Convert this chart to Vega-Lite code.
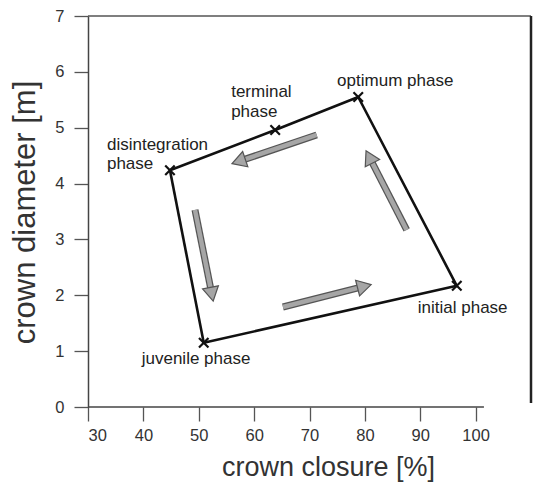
{
  "$schema": "https://vega.github.io/schema/vega-lite/v6.json",
  "width": 443,
  "height": 391,
  "autosize": {"type": "none"},
  "padding": {"left": 88, "top": 16, "right": 5, "bottom": 76},
  "background": "white",
  "config": {
    "view": {"stroke": null},
    "font": "Liberation Sans",
    "axis": {"grid": false, "labelFont": "Liberation Sans", "titleFont": "Liberation Sans", "titleFontWeight": "normal"}
  },
  "datasets": {
    "phases": [
      {"phase": "initial", "label": "initial phase", "crown_closure": 96.6, "crown_diameter": 2.17, "next": "optimum"},
      {"phase": "optimum", "label": "optimum phase", "crown_closure": 78.8, "crown_diameter": 5.55, "next": "terminal"},
      {"phase": "terminal", "label": "terminal\nphase", "crown_closure": 63.8, "crown_diameter": 4.96, "next": "disintegration"},
      {"phase": "disintegration", "label": "disintegration\nphase", "crown_closure": 44.8, "crown_diameter": 4.24, "next": "juvenile"},
      {"phase": "juvenile", "label": "juvenile phase", "crown_closure": 50.9, "crown_diameter": 1.15, "next": "initial"}
    ],
    "arrows": [
      {"arrow": "top", "x": 71.3, "y": 4.87, "x2": 57.6, "y2": 4.41},
      {"arrow": "right", "x": 87.55, "y": 3.17, "x2": 80.98, "y2": 4.44},
      {"arrow": "left", "x": 49.32, "y": 3.53, "x2": 52.28, "y2": 2.06},
      {"arrow": "bottom", "x": 65.2, "y": 1.79, "x2": 79.5, "y2": 2.15}
    ]
  },
  "layer": [
    {
      "data": {"values": [{}]},
      "mark": {"type": "rule", "color": "#555", "strokeWidth": 1.3},
      "encoding": {
        "x": {"datum": 30, "type": "quantitative", "scale": {"domain": [30, 110]}},
        "x2": {"datum": 110},
        "y": {"datum": 7, "type": "quantitative", "scale": {"domain": [0, 7]}}
      }
    },
    {
      "data": {"values": [{}]},
      "mark": {"type": "rule", "color": "#222", "strokeWidth": 2.5},
      "encoding": {
        "x": {"datum": 110, "type": "quantitative"},
        "y": {"datum": 0.07, "type": "quantitative"},
        "y2": {"datum": 7}
      }
    },
    {
      "data": {"values": [{}]},
      "mark": {"type": "rule", "color": "#444", "strokeWidth": 1.5},
      "encoding": {
        "x": {"datum": 30, "type": "quantitative"},
        "x2": {"datum": 101.5},
        "y": {"datum": 0, "type": "quantitative"}
      }
    },
    {
      "data": {"name": "phases"},
      "transform": [
        {"lookup": "next", "from": {"data": {"name": "phases"}, "key": "phase", "fields": ["crown_closure", "crown_diameter"]}, "as": ["next_closure", "next_diameter"]}
      ],
      "mark": {"type": "rule", "color": "#111", "strokeWidth": 2.6, "strokeCap": "round"},
      "encoding": {
        "x": {
          "field": "crown_closure", "type": "quantitative",
          "scale": {"domain": [30, 110], "nice": false},
          "axis": {
            "values": [30, 40, 50, 60, 70, 80, 90, 100],
            "format": "d",
            "domain": false,
            "tickSize": 14, "tickColor": "#555", "tickWidth": 1.3,
            "labelFontSize": 16.5, "labelColor": "#333", "labelPadding": 6,
            "title": "crown closure [%]", "titleFontSize": 27, "titleColor": "#333",
            "titleX": 240, "titleY": 68, "titleBaseline": "alphabetic"
          }
        },
        "x2": {"field": "next_closure"},
        "y": {
          "field": "crown_diameter", "type": "quantitative",
          "scale": {"domain": [0, 7], "nice": false},
          "axis": {
            "values": [0, 1, 2, 3, 4, 5, 6, 7],
            "format": "d",
            "domain": true, "domainColor": "#444", "domainWidth": 1.5,
            "tickSize": 14, "tickColor": "#555", "tickWidth": 1.3,
            "labelFontSize": 16.5, "labelColor": "#333", "labelPadding": 10,
            "title": "crown diameter [m]", "titleFontSize": 31, "titleColor": "#333",
            "titleX": -47, "titleY": 196
          }
        },
        "y2": {"field": "next_diameter"}
      }
    },
    {
      "data": {"name": "phases"},
      "mark": {"type": "point", "shape": "M-1,-1L1,1M-1,1L1,-1", "size": 90, "stroke": "#111", "strokeWidth": 2.2, "filled": false, "opacity": 1},
      "encoding": {
        "x": {"field": "crown_closure", "type": "quantitative"},
        "y": {"field": "crown_diameter", "type": "quantitative"}
      }
    },
    {
      "data": {"name": "arrows"},
      "mark": {"type": "rule", "color": "#555", "strokeWidth": 7},
      "encoding": {
        "x": {"field": "x", "type": "quantitative"},
        "y": {"field": "y", "type": "quantitative"},
        "x2": {"field": "x2"},
        "y2": {"field": "y2"}
      }
    },
    {
      "data": {"name": "arrows"},
      "mark": {"type": "rule", "color": "#a6a6a6", "strokeWidth": 4.5},
      "encoding": {
        "x": {"field": "x", "type": "quantitative"},
        "y": {"field": "y", "type": "quantitative"},
        "x2": {"field": "x2"},
        "y2": {"field": "y2"}
      }
    },
    {
      "data": {"name": "arrows"},
      "transform": [
        {"calculate": "atan2((datum.x2 - datum.x) * 5.5375, (datum.y2 - datum.y) * 55.857) * 180 / PI", "as": "heading"}
      ],
      "mark": {"type": "point", "shape": "triangle", "size": 260, "filled": true, "fill": "#a6a6a6", "stroke": "#555", "strokeWidth": 1.2, "opacity": 1},
      "encoding": {
        "x": {"field": "x2", "type": "quantitative"},
        "y": {"field": "y2", "type": "quantitative"},
        "angle": {"field": "heading", "type": "quantitative", "scale": null}
      }
    },
    {
      "data": {"name": "phases"},
      "transform": [{"filter": "datum.phase === 'optimum'"}],
      "mark": {"type": "text", "align": "center", "baseline": "middle", "dx": 37, "dy": -16, "fontSize": 17, "color": "#222"},
      "encoding": {
        "x": {"field": "crown_closure", "type": "quantitative"},
        "y": {"field": "crown_diameter", "type": "quantitative"},
        "text": {"field": "label"}
      }
    },
    {
      "data": {"name": "phases"},
      "transform": [{"filter": "datum.phase === 'terminal'"}],
      "mark": {"type": "text", "align": "left", "baseline": "middle", "dx": -44, "dy": -38, "fontSize": 17, "lineBreak": "\n", "lineHeight": 20, "color": "#222"},
      "encoding": {
        "x": {"field": "crown_closure", "type": "quantitative"},
        "y": {"field": "crown_diameter", "type": "quantitative"},
        "text": {"field": "label"}
      }
    },
    {
      "data": {"name": "phases"},
      "transform": [{"filter": "datum.phase === 'disintegration'"}],
      "mark": {"type": "text", "align": "left", "baseline": "middle", "dx": -63, "dy": -25, "fontSize": 17, "lineBreak": "\n", "lineHeight": 19, "color": "#222"},
      "encoding": {
        "x": {"field": "crown_closure", "type": "quantitative"},
        "y": {"field": "crown_diameter", "type": "quantitative"},
        "text": {"field": "label"}
      }
    },
    {
      "data": {"name": "phases"},
      "transform": [{"filter": "datum.phase === 'juvenile'"}],
      "mark": {"type": "text", "align": "left", "baseline": "middle", "dx": -62, "dy": 16, "fontSize": 17, "color": "#222"},
      "encoding": {
        "x": {"field": "crown_closure", "type": "quantitative"},
        "y": {"field": "crown_diameter", "type": "quantitative"},
        "text": {"field": "label"}
      }
    },
    {
      "data": {"name": "phases"},
      "transform": [{"filter": "datum.phase === 'initial'"}],
      "mark": {"type": "text", "align": "left", "baseline": "middle", "dx": -39, "dy": 22, "fontSize": 17, "color": "#222"},
      "encoding": {
        "x": {"field": "crown_closure", "type": "quantitative"},
        "y": {"field": "crown_diameter", "type": "quantitative"},
        "text": {"field": "label"}
      }
    }
  ]
}
